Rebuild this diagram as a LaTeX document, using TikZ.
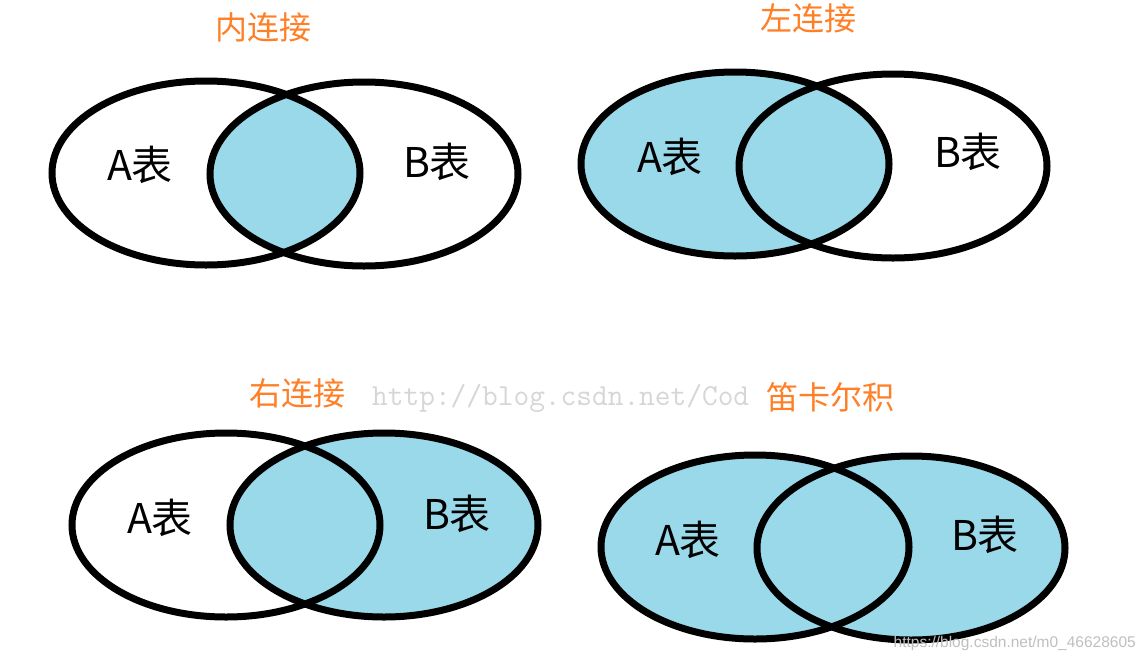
\documentclass[tikz,border=0pt]{standalone}
\usepackage{fontspec}
\setmainfont{Noto Sans CJK SC}
\newfontfamily\marksans{Liberation Sans}
\definecolor{venncyan}{RGB}{153,217,234}
\definecolor{titleorange}{RGB}{255,127,39}

\begin{document}
\begin{tikzpicture}[x=1pt, y=-1pt,
    ring/.style={draw=black, line width=7pt},
    tint/.style={fill=venncyan},
    tablabel/.style={font=\fontsize{41}{41}\selectfont, text=black, inner sep=0pt},
    jointitle/.style={font=\fontsize{32}{32}\selectfont, text=titleorange, inner sep=0pt},
    watermark/.style={inner sep=0pt}]
\useasboundingbox (0,0) rectangle (1141,662);
\fill[white] (0,0) rectangle (1141,662);

% centres of the sets
\coordinate (innerA) at (206,173);
\coordinate (innerB) at (364,174);
\coordinate (leftA) at (735,164);
\coordinate (leftB) at (893,166);
\coordinate (rightA) at (226,525);
\coordinate (rightB) at (384,525);
\coordinate (crossA) at (755,547);
\coordinate (crossB) at (911,548);

% shaded parts
\begin{scope}
  \clip (innerA) ellipse [x radius=154, y radius=92];
  \fill[tint] (innerB) ellipse [x radius=154, y radius=92];
\end{scope}
\fill[tint] (leftA) ellipse [x radius=154, y radius=92];
\fill[tint] (rightB) ellipse [x radius=154, y radius=92];
\fill[tint] (crossA) ellipse [x radius=154, y radius=92];
\fill[tint] (crossB) ellipse [x radius=154, y radius=92];

% outlines
\draw[ring] (innerA) ellipse [x radius=154, y radius=92];
\draw[ring] (innerB) ellipse [x radius=154, y radius=92];
\draw[ring] (leftA) ellipse [x radius=154, y radius=92];
\draw[ring] (leftB) ellipse [x radius=154, y radius=92];
\draw[ring] (rightA) ellipse [x radius=154, y radius=92];
\draw[ring] (rightB) ellipse [x radius=154, y radius=92];
\draw[ring] (crossA) ellipse [x radius=154, y radius=92];
\draw[ring] (crossB) ellipse [x radius=154, y radius=92];

% table labels
\node[tablabel] (innerlabA) at (140,165) {A表};
\node[tablabel] (innerlabB) at (437,162) {B表};
\node[tablabel] (leftlabA) at (670,157) {A表};
\node[tablabel] (leftlabB) at (968,152) {B表};
\node[tablabel] (rightlabA) at (160,518) {A表};
\node[tablabel] (rightlabB) at (457,514) {B表};
\node[tablabel] (crosslabA) at (688,540) {A表};
\node[tablabel] (crosslabB) at (985,535) {B表};

% watermark behind the last title
\node[watermark, anchor=west, text=black!16, font=\ttfamily\fontsize{30.5}{30.5}\selectfont] (urltop) at (372,398) {http://blog.csdn.net/Cod};

% titles
\node[jointitle] (innertitle) at (263,27) {内连接};
\node[jointitle] (lefttitle) at (808,18) {左连接};
\node[jointitle] (righttitle) at (297,393) {右连接};
\node[jointitle] (crosstitle) at (830,397) {笛卡尔积};

\node[watermark, anchor=east, text=black!25, font=\marksans\fontsize{15.5}{15.5}\selectfont] (urlbottom) at (1136,643) {https://blog.csdn.net/m0\_46628605};
\end{tikzpicture}
\end{document}
